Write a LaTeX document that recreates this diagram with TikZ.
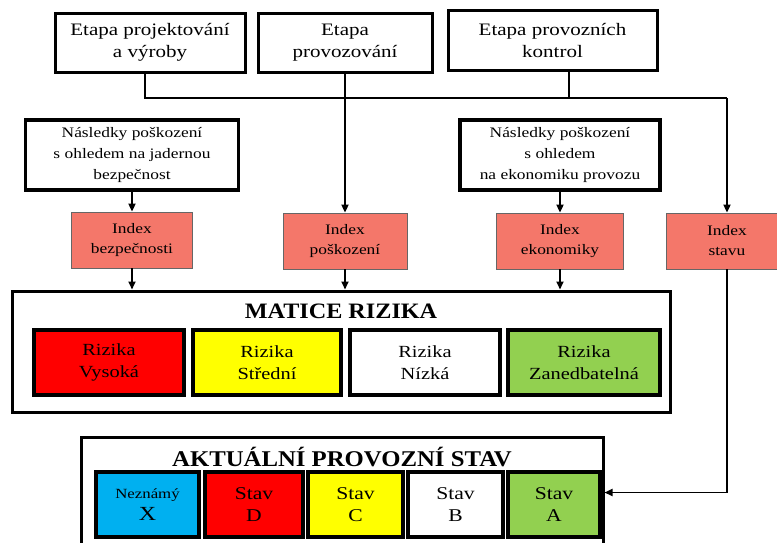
\documentclass[tikz,border=0pt]{standalone}
\usepackage{fontspec}
\setmainfont{Liberation Serif}
\newfontfamily\wideA[FakeStretch=1.2]{Liberation Serif}
\newfontfamily\wideB[FakeStretch=1.1]{Liberation Serif}
\usetikzlibrary{arrows.meta}
\definecolor{salmon}{RGB}{244,119,106}
\definecolor{rred}{RGB}{255,0,0}
\definecolor{ryellow}{RGB}{255,255,0}
\definecolor{rgreen}{RGB}{146,208,80}
\definecolor{rcyan}{RGB}{0,176,240}
\begin{document}
\begin{tikzpicture}[x=1pt,y=-1pt,
  topbox/.style={draw, line width=3pt, fill=white, align=center, inner sep=0pt,
    font=\wideA\fontsize{17.5}{22}\selectfont},
  conbox/.style={draw, line width=3.2pt, fill=white, align=center, inner sep=0pt,
    font=\wideA\fontsize{14.5}{21}\selectfont},
  idxbox/.style={draw=black!60, line width=0.8pt, fill=salmon, align=center, inner sep=0pt,
    font=\wideA\fontsize{14.5}{20}\selectfont},
  outerbox/.style={draw, line width=3pt, fill=white, inner sep=0pt},
  cellbox/.style={draw, line width=3.8pt, align=center, inner sep=0pt,
    font=\wideA\fontsize{17}{22}\selectfont},
  statebox/.style={cellbox, font=\wideA\fontsize{18}{22}\selectfont},
  titletext/.style={font=\wideB\bfseries\fontsize{22}{24}\selectfont, inner sep=0pt},
  conn/.style={line width=1.8pt},
  arr/.style={line width=1.8pt, -{Triangle[length=8pt,width=7pt]}}
]
\useasboundingbox (0,0) rectangle (777,542);

% top boxes
\node[topbox, minimum width=190pt, minimum height=59pt] (b1) at (150,42.5) {Etapa projektování\\a výroby};
\node[topbox, minimum width=174pt, minimum height=59pt] (b2) at (345,42.5) {Etapa\\provozování};
\node[topbox, minimum width=209pt, minimum height=60pt] (b3) at (552.5,40) {Etapa provozních\\kontrol};

% consequence boxes
\node[conbox, minimum width=213pt, minimum height=70pt] (n1) at (132,155) {Následky poškození\\s ohledem na jadernou\\bezpečnost};
\node[conbox, line width=4pt, minimum width=200pt, minimum height=70pt] (n2) at (560,155) {Následky poškození\\s ohledem\\na ekonomiku provozu};

% index boxes
\node[idxbox, minimum width=121pt, minimum height=56pt] (i1) at (132,240) {Index\\bezpečnosti};
\node[idxbox, minimum width=124pt, minimum height=56pt] (i2) at (345,241) {Index\\poškození};
\node[idxbox, minimum width=127pt, minimum height=56pt] (i3) at (560,241) {Index\\ekonomiky};
\node[idxbox, minimum width=122pt, minimum height=56pt] (i4) at (727,241) {Index\\stavu};

% risk matrix
\node[outerbox, minimum width=658pt, minimum height=121pt] (mat) at (341,351.5) {};
\node[titletext] (matt) at (341,311) {MATICE RIZIKA};
\node[cellbox, fill=rred, minimum width=150pt, minimum height=65pt] (r1) at (109,362.5) {Rizika\\Vysoká};
\node[cellbox, fill=ryellow, minimum width=148pt, minimum height=65pt] (r2) at (267,362.5) {Rizika\\Střední};
\node[cellbox, fill=white, minimum width=150pt, minimum height=65pt] (r3) at (425,362.5) {Rizika\\Nízká};
\node[cellbox, fill=rgreen, minimum width=152pt, minimum height=65pt] (r4) at (584,362.5) {Rizika\\Zanedbatelná};

% current state
\node[outerbox, minimum width=522pt, minimum height=123pt] (akt) at (342,498.5) {};
\node[titletext, font=\wideB\bfseries\fontsize{22.5}{24}\selectfont] (aktt) at (342,457) {AKTUÁLNÍ PROVOZNÍ STAV};
\node[statebox, fill=rcyan, minimum width=103pt, minimum height=65pt] (sx) at (147.5,504.5) {{\fontsize{14}{22}\selectfont Neznámý}\\{\fontsize{20}{22}\selectfont X}};
\node[statebox, fill=rred, minimum width=98pt, minimum height=65pt] (sd) at (254,504.5) {Stav\\D};
\node[statebox, fill=ryellow, minimum width=95pt, minimum height=65pt] (sc) at (355.5,504.5) {Stav\\C};
\node[statebox, fill=white, minimum width=95pt, minimum height=65pt] (sb) at (455.5,504.5) {Stav\\B};
\node[statebox, fill=rgreen, minimum width=92pt, minimum height=65pt] (sa) at (554,504.5) {Stav\\A};

% bus
\coordinate (j1) at (145,98);
\coordinate (j3) at (569,98);
\coordinate (j4) at (727,98);
\draw[conn] (b1.south -| j1) -- (j1) -- (j4);
\draw[conn] (b3.south -| j3) -- (j3);
\draw[arr] (j4) -- (i4.north);
\draw[arr] (b2.south) -- (i2.north);
\draw[arr] (n1.south) -- (i1.north);
\draw[arr] (n2.south) -- (i3.north);
\draw[arr] (i1.south) -- (i1.south |- mat.north);
\draw[arr] (i2.south) -- (i2.south |- mat.north);
\draw[arr] (i3.south) -- (i3.south |- mat.north);
\coordinate (ain) at ([yshift=-57pt]akt.north east);
\draw[arr] (i4.south) |- (ain);
\end{tikzpicture}
\end{document}
